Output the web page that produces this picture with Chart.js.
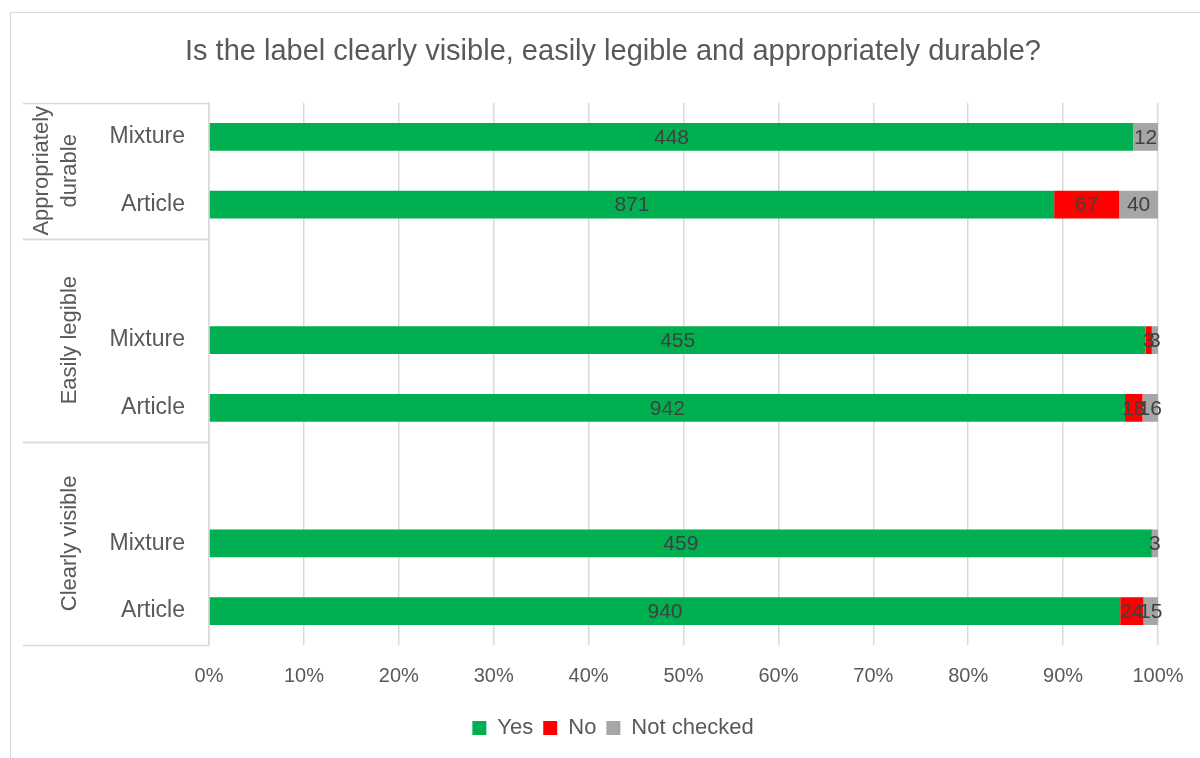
<!DOCTYPE html>
<html>
<head>
<meta charset="utf-8">
<script src="https://cdn.jsdelivr.net/npm/chart.js@4.4.1/dist/chart.umd.min.js"></script>
<style>
  html, body { margin: 0; padding: 0; background: #ffffff; overflow: hidden; }
  #wrap { width: 1200px; height: 758px; }
</style>
</head>
<body>
<div id="wrap"><canvas id="c" width="1200" height="758"></canvas></div>
<script>
// ---- data (top to bottom) ----
const categories = ['Mixture', 'Article', '', 'Mixture', 'Article', '', 'Mixture', 'Article'];
const groupNames = [['Appropriately', 'durable'], ['Easily legible'], ['Clearly visible']];
const groupFirst = [0, 2, 5];
const groupLast = [1, 4, 7];
const seriesNames = ['Yes', 'No', 'Not checked'];
const yesCounts = [448, 871, null, 455, 942, null, 459, 940];
const noCounts = [0, 67, null, 3, 18, null, 0, 24];
const notCheckedCounts = [12, 40, null, 3, 16, null, 3, 15];
const tickLabels = ['0%', '10%', '20%', '30%', '40%', '50%', '60%', '70%', '80%', '90%', '100%'];

// ---- derived (100% stacked) ----
const seriesCounts = [yesCounts, noCounts, notCheckedCounts];
const seriesColors = ['#00B050', '#FF0000', '#A6A6A6'];
const totals = categories.map((_, i) =>
  seriesCounts.reduce((s, arr) => s + (arr[i] || 0), 0));
const toPct = arr => arr.map((v, i) => (v === null || !totals[i]) ? null : v / totals[i] * 100);

const FONT = "'Liberation Sans', Arial, sans-serif";
const AXIS_COLOR = '#595959';
const LINE_COLOR = '#D9D9D9';

const framePlugin = {
  id: 'frame',
  beforeDraw(chart) {
    const ctx = chart.ctx;
    ctx.save();
    ctx.fillStyle = '#ffffff';
    ctx.fillRect(0, 0, chart.width, chart.height);
    ctx.strokeStyle = LINE_COLOR;
    ctx.lineWidth = 1;
    ctx.strokeRect(10.5, 12.5, 1400, 900);
    ctx.restore();
  }
};

const groupAxisPlugin = {
  id: 'groupAxis',
  afterDraw(chart) {
    const ctx = chart.ctx;
    const ys = chart.scales.y;
    const area = chart.chartArea;
    const step = ys.getPixelForValue(1) - ys.getPixelForValue(0);
    const x0 = ys.left + 4;
    const x1 = area.left;
    ctx.save();
    ctx.strokeStyle = LINE_COLOR;
    ctx.lineWidth = 1.5;
    groupNames.forEach((lines, g) => {
      const top = ys.getPixelForValue(groupFirst[g]) - step / 2;
      const bottom = ys.getPixelForValue(groupLast[g]) + step / 2;
      [top, bottom].forEach(yy => {
        ctx.beginPath();
        ctx.moveTo(x0, Math.round(yy) + 0.5);
        ctx.lineTo(x1, Math.round(yy) + 0.5);
        ctx.stroke();
      });
      const cy = (top + bottom) / 2;
      ctx.fillStyle = AXIS_COLOR;
      ctx.font = '22px ' + FONT;
      ctx.textAlign = 'center';
      ctx.textBaseline = 'alphabetic';
      const n = lines.length;
      lines.forEach((txt, k) => {
        const bx = ys.left + 57 - 28 * (n - 1 - k);
        ctx.save();
        ctx.translate(bx, cy);
        ctx.rotate(-Math.PI / 2);
        ctx.fillText(txt, 0, 0);
        ctx.restore();
      });
    });
    ctx.restore();
  }
};

const dataLabelPlugin = {
  id: 'segLabels',
  afterDatasetsDraw(chart) {
    const ctx = chart.ctx;
    ctx.save();
    ctx.font = '21px ' + FONT;
    ctx.fillStyle = '#404040';
    ctx.textAlign = 'center';
    ctx.textBaseline = 'middle';
    chart.data.datasets.forEach((ds, di) => {
      const meta = chart.getDatasetMeta(di);
      meta.data.forEach((el, j) => {
        const count = seriesCounts[di][j];
        if (!count) return;
        const p = el.getProps(['x', 'y', 'base'], true);
        ctx.fillText(String(count), (p.x + p.base) / 2, p.y + 1);
      });
    });
    ctx.restore();
  }
};

new Chart(document.getElementById('c'), {
  type: 'bar',
  data: {
    labels: categories,
    datasets: seriesNames.map((name, i) => ({
      label: name,
      data: toPct(seriesCounts[i]),
      backgroundColor: seriesColors[i],
      borderWidth: 0,
      categoryPercentage: 1,
      barPercentage: 0.41
    }))
  },
  options: {
    indexAxis: 'y',
    responsive: false,
    animation: false,
    devicePixelRatio: 1,
    layout: { padding: { left: 19, right: -7, top: 12, bottom: 9 } },
    scales: {
      x: {
        stacked: true,
        min: 0,
        max: 100,
        grid: { display: true, color: LINE_COLOR, lineWidth: 1.5, drawTicks: false },
        border: { display: false },
        ticks: {
          stepSize: 10,
          padding: 19,
          color: AXIS_COLOR,
          font: { family: FONT, size: 20 },
          callback: (v, i) => tickLabels[i]
        },
        afterFit(s) { s.height = 62; s.paddingLeft = 0; s.paddingRight = 0; }
      },
      y: {
        stacked: true,
        grid: { display: false, drawTicks: false },
        border: { display: true, color: LINE_COLOR, width: 1.5 },
        ticks: {
          autoSkip: false,
          padding: 24,
          color: AXIS_COLOR,
          font: { family: FONT, size: 23 }
        },
        afterFit(s) { s.width = 190; }
      },
      y2: {
        type: 'category',
        position: 'right',
        display: true,
        grid: { display: false, drawTicks: false },
        border: { display: false },
        ticks: { display: false },
        afterFit(s) { s.width = 49; }
      }
    },
    plugins: {
      title: {
        display: true,
        text: 'Is the label clearly visible, easily legible and appropriately durable?',
        color: AXIS_COLOR,
        font: { family: FONT, size: 29, weight: 'normal', lineHeight: 1.2 },
        padding: { top: 22.6, bottom: 33.6 }
      },
      legend: {
        display: true,
        position: 'bottom',
        labels: {
          boxWidth: 14,
          boxHeight: 14,
          padding: 10,
          color: AXIS_COLOR,
          font: { family: FONT, size: 22 }
        }
      },
      tooltip: { enabled: false }
    }
  },
  plugins: [framePlugin, groupAxisPlugin, dataLabelPlugin]
});
</script>
</body>
</html>
